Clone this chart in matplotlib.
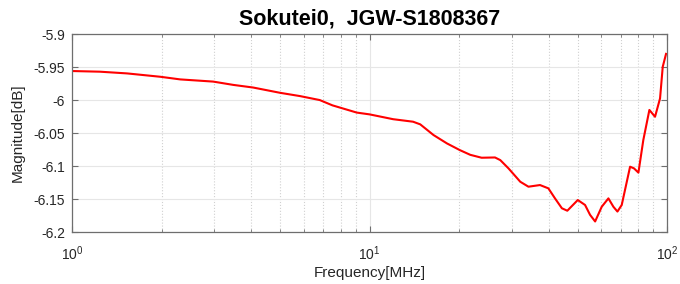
import numpy as np
import matplotlib
matplotlib.use("Agg")
import matplotlib.pyplot as plt
from matplotlib.ticker import FixedLocator, FuncFormatter, LogLocator, NullFormatter

plt.rcParams['font.family'] = ['Liberation Sans', 'DejaVu Sans']

# values
freq_mhz = [1.0, 1.24, 1.53, 1.98, 2.31, 2.98, 3.48, 4.06, 5.0, 5.84, 6.8,
            7.5, 9.06, 10.0, 12.0, 14.0, 14.8, 16.4, 18.2, 20.1, 21.8, 23.8,
            26.4, 27.5, 29.3, 32.1, 34.2, 37.4, 39.9, 42.0, 44.3, 46.2, 50.1,
            53.0, 55.1, 57.3, 60.3, 63.5, 66.0, 68.1, 70.4, 75.1, 77.4, 80.1,
            83.2, 87.2, 91.1, 94.7, 96.7, 99.2]
mag_db = [-5.956, -5.957, -5.9596, -5.9647, -5.9687, -5.972, -5.977, -5.981,
          -5.989, -5.994, -6.000, -6.008, -6.019, -6.0217, -6.029, -6.0328,
          -6.0368, -6.053, -6.0657, -6.0758, -6.083, -6.0874, -6.087, -6.091,
          -6.1035, -6.1238, -6.1313, -6.1288, -6.1338, -6.149, -6.164,
          -6.1677, -6.1515, -6.159, -6.174, -6.184, -6.1617, -6.149, -6.1617,
          -6.169, -6.159, -6.101, -6.1035, -6.110, -6.0606, -6.015, -6.0253,
          -5.9975, -5.9495, -5.930]
y_ticks = [-5.9, -5.95, -6.0, -6.05, -6.1, -6.15, -6.2]

fig = plt.figure(figsize=(6.8, 2.84), dpi=100)
ax = fig.add_axes([0.106, 0.183, 0.875, 0.697])

ax.semilogx(freq_mhz, mag_db, color='red', linewidth=1.5)
ax.set_xlim(1, 100)
ax.set_ylim(-6.2, -5.9)

ax.yaxis.set_major_locator(FixedLocator(y_ticks))
ax.yaxis.set_major_formatter(FuncFormatter(lambda v, p: '%g' % v))
ax.xaxis.set_major_locator(LogLocator(base=10))
ax.xaxis.set_minor_locator(LogLocator(base=10, subs=np.arange(2, 10)))
ax.xaxis.set_minor_formatter(NullFormatter())

ax.grid(True, which='major', color='#e6e6e6', linestyle='-', linewidth=0.8)
ax.grid(True, which='minor', axis='x', color='#d0d0d0', linestyle=':', linewidth=0.8)
ax.set_axisbelow(True)

for s in ax.spines.values():
    s.set_color('#6e6e6e')
    s.set_linewidth(0.9)
ax.tick_params(which='both', direction='in', top=True, right=True,
               colors='#6e6e6e', labelcolor='#262626', labelsize=10)
ax.tick_params(which='major', length=4)
ax.tick_params(which='minor', length=2.5)
ax.tick_params(axis='y', pad=5)
ax.tick_params(axis='x', pad=9)

ax.set_title('Sokutei0,  JGW-S1808367', fontsize=15.5, fontweight='bold', pad=7)
ax.set_xlabel('Frequency[MHz]', fontsize=11, color='#262626', labelpad=2)
ax.set_ylabel('Magnitude[dB]', fontsize=11, color='#262626', labelpad=6)

fig.savefig('out.png', dpi=100)
